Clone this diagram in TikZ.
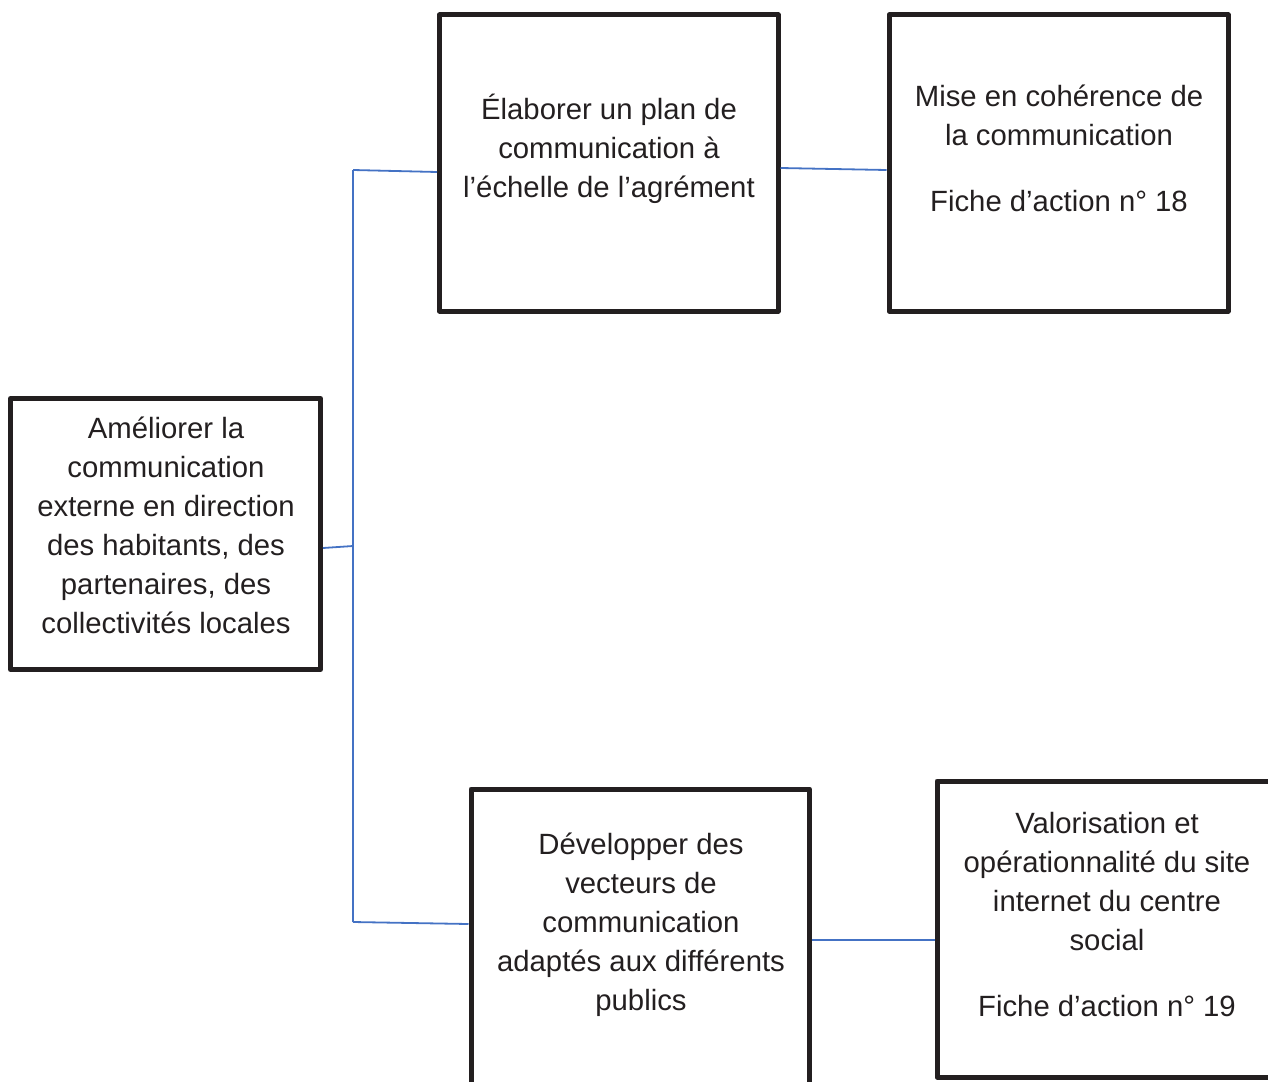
\documentclass[tikz,border=0pt]{standalone}
\usepackage{fontspec}
\setmainfont{Liberation Sans}
\definecolor{ink}{HTML}{231F20}
\definecolor{conn}{HTML}{4472C4}
\begin{document}
\begin{tikzpicture}[x=1pt,y=-1pt,
  box/.style={draw=ink,line width=5pt,line join=round,fill=none,inner sep=0pt},
  txt/.style={text=ink,align=center,inner sep=0pt,font=\fontsize{29.3}{39}\selectfont},
  link/.style={draw=conn,line width=1.8pt}]
\useasboundingbox (0,0) rectangle (1268,1081);
\clip (0,0) rectangle (1268,1081);
% boxes
\node[box,minimum width=310pt,minimum height=271pt] (A) at (165.5,534) {};
\node[box,minimum width=338.5pt,minimum height=296pt] (B) at (608.75,163) {};
\node[box,minimum width=339pt,minimum height=296pt] (C) at (1058.5,163) {};
\node[box,minimum width=338.5pt,minimum height=311pt] (D) at (640.25,944.5) {};
\node[box,minimum width=353pt,minimum height=296pt] (E) at (1113.5,929) {};
% texts
\node[txt] (tA) at (166,525) {Améliorer la\\communication\\externe en direction\\des habitants, des\\partenaires, des\\collectivités locales};
\node[txt] (tB) at (609,149) {Élaborer un plan de\\communication à\\l’échelle de l’agrément};
\node[txt] (tC) at (1059,148.5) {Mise en cohérence de\\la communication\\[27pt]Fiche d’action n° 18};
\node[txt] (tD) at (641,924.5) {Développer des\\vecteurs de\\communication\\adaptés aux différents\\publics};
\node[txt] (tE) at (1107,915) {Valorisation et\\opérationnalité du site\\internet du centre\\social\\[27pt]Fiche d’action n° 19};
% connectors
\coordinate (j1) at (353,546);
\coordinate (jt) at (353,170);
\coordinate (jb) at (353,922);
\draw[link] (jt) -- (jb);
\draw[link] ([yshift=-14pt]A.east) -- (j1);
\draw[link] (jt) -- ([yshift=-9pt]B.west);
\draw[link] ([yshift=-5pt]B.east) -- ([yshift=-7pt]C.west);
\draw[link] (jb) -- ([yshift=20.5pt]D.west);
\draw[link] ([yshift=-11pt]E.west -| D.east) -- ([yshift=-11pt]E.west);
\end{tikzpicture}
\end{document}
